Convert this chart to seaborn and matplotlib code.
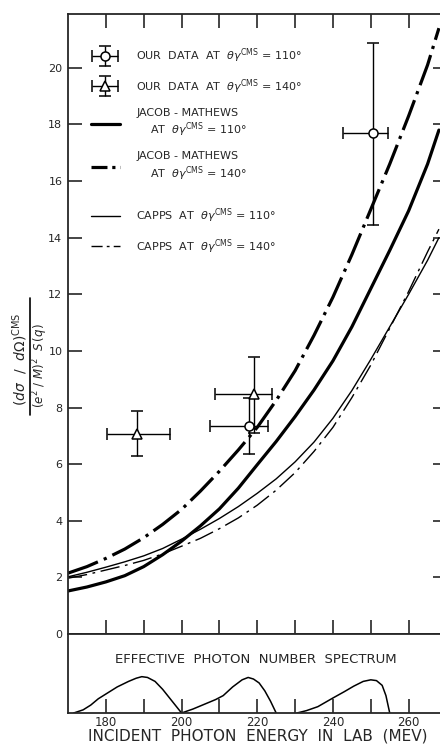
import matplotlib
matplotlib.use("Agg")
import matplotlib.pyplot as plt
import seaborn as sns
import pandas as pd
from matplotlib.lines import Line2D
from matplotlib.container import ErrorbarContainer
from matplotlib.legend_handler import HandlerErrorbar

# ---------------- data ----------------
energy = [170, 175, 180, 185, 190, 195, 200, 205, 210, 215, 220,
          225, 230, 235, 240, 245, 250, 255, 260, 265, 268]
jm_110 = [1.52, 1.66, 1.84, 2.06, 2.38, 2.8, 3.28, 3.82, 4.42, 5.15, 5.98,
          6.8, 7.68, 8.62, 9.65, 10.85, 12.2, 13.55, 14.95, 16.6, 17.8]
jm_140 = [2.15, 2.38, 2.67, 3.0, 3.4, 3.87, 4.4, 5.05, 5.75, 6.5, 7.3,
          8.25, 9.3, 10.55, 11.9, 13.4, 15.0, 16.6, 18.3, 20.1, 21.4]
capps_110 = [2.02, 2.18, 2.36, 2.55, 2.76, 3.02, 3.35, 3.7, 4.08, 4.5, 4.97,
             5.48, 6.08, 6.78, 7.62, 8.6, 9.7, 10.85, 12.0, 13.2, 14.0]
capps_140 = [1.97, 2.1, 2.26, 2.42, 2.6, 2.83, 3.1, 3.38, 3.72, 4.1, 4.55,
             5.08, 5.7, 6.45, 7.3, 8.35, 9.5, 10.8, 12.1, 13.5, 14.3]

circ_x = [217.9, 250.6]
circ_y = [7.35, 17.7]
circ_xerr_lo = [10.3, 7.9]
circ_xerr_hi = [5.0, 4.0]
circ_yerr_lo = [1.0, 3.25]
circ_yerr_hi = [0.98, 3.17]

tri_x = [188.1, 219.1]
tri_y = [7.06, 8.48]
tri_xerr_lo = [7.9, 10.3]
tri_xerr_hi = [8.8, 4.9]
tri_yerr_lo = [0.76, 1.37]
tri_yerr_hi = [0.83, 1.32]

spec1_x = [171.5, 174, 176, 178, 180, 183, 186, 188, 189.5, 191, 193, 195, 197, 199, 200]
spec1_y = [0, 0.04, 0.10, 0.18, 0.24, 0.33, 0.40, 0.44, 0.46, 0.45, 0.40, 0.30, 0.18, 0.06, 0]
spec2_x = [200, 203, 206, 209, 211, 213.5, 216, 217.6, 219, 220.5, 222, 223.5, 225]
spec2_y = [0, 0.05, 0.11, 0.17, 0.22, 0.33, 0.42, 0.45, 0.43, 0.38, 0.28, 0.15, 0]
spec3_x = [230.5, 233, 236, 240, 243, 245.5, 248, 250, 251.5, 253, 254, 255]
spec3_y = [0, 0.03, 0.08, 0.19, 0.27, 0.34, 0.40, 0.42, 0.41, 0.35, 0.22, 0]

xticks = [180, 190, 200, 210, 220, 230, 240, 250, 260]
xticklabels = ["180", "", "200", "", "220", "", "240", "", "260"]
yticks = [0, 2, 4, 6, 8, 10, 12, 14, 16, 18, 20]

# ---------------- style ----------------
sns.set_style("ticks")
plt.rcParams["font.family"] = ["DejaVu Sans"]
plt.rcParams["mathtext.fontset"] = "dejavusans"
plt.rcParams["axes.linewidth"] = 1.3

fig = plt.figure(figsize=(4.4, 7.44), dpi=100)
W, H = 440.0, 744.0
x0, x1 = 68.0, 68.0 + 378.5
ax = fig.add_axes([x0 / W, (H - 634) / H, (x1 - x0) / W, (634 - 14) / H])
axb = fig.add_axes([x0 / W, (H - 713) / H, (x1 - x0) / W, (713 - 634) / H])

curves = pd.DataFrame({"energy": energy, "jm110": jm_110, "jm140": jm_140,
                       "c110": capps_110, "c140": capps_140})

jm140_ls = (0, (10, 2.0, 1.0, 2.0))
c140_ls = (0, (14, 4, 2, 4))
sns.lineplot(data=curves, x="energy", y="jm110", ax=ax, color="black", lw=2.3,
             linestyle="-")
sns.lineplot(data=curves, x="energy", y="jm140", ax=ax, color="black", lw=2.3,
             linestyle=jm140_ls)
sns.lineplot(data=curves, x="energy", y="c110", ax=ax, color="black", lw=1.0,
             linestyle="-")
sns.lineplot(data=curves, x="energy", y="c140", ax=ax, color="black", lw=1.0,
             linestyle=c140_ls)

eb_kw = dict(ecolor="black", elinewidth=1.0, capsize=4.5, capthick=1.0,
             mfc="white", mec="black", mew=1.1, color="black", lw=0)
e1 = ax.errorbar(circ_x, circ_y, xerr=[circ_xerr_lo, circ_xerr_hi],
                 yerr=[circ_yerr_lo, circ_yerr_hi], fmt="o", ms=6.5, **eb_kw)
e2 = ax.errorbar(tri_x, tri_y, xerr=[tri_xerr_lo, tri_xerr_hi],
                 yerr=[tri_yerr_lo, tri_yerr_hi], fmt="^", ms=7, **eb_kw)

ax.set_xlim(170, 270)
ax.set_ylim(0, 21.9)
ax.set_xticks(xticks)
ax.set_xticklabels([])
ax.set_yticks(yticks)
ax.set_yticklabels([str(v) for v in yticks], fontsize=8)
ax.tick_params(axis="both", which="major", direction="in", length=10, width=1.2,
               top=True, bottom=True, left=True, right=True, pad=4)
ax.set_xlabel("")
ax.set_ylabel("")

# y-axis label drawn as a stacked fraction (rotated)
fig.text(20 / W, 1 - 359 / H, r"$(d\sigma\ \ /\ \ d\Omega)^{\mathrm{CMS}}$",
         rotation=90, ha="center", va="center", fontsize=10)
fig.text(40 / W, 1 - 366 / H, r"$(e^2\ /\ M)^2\ \ S\,(q)$",
         rotation=90, ha="center", va="center", fontsize=8.5)
fig.add_artist(Line2D([30 / W, 30 / W], [1 - 298 / H, 1 - 415 / H],
                      transform=fig.transFigure, color="black", lw=1.2))

# legend
th = r"$\theta\gamma^{\mathrm{CMS}}$"
leg_kw = dict(loc="upper left", frameon=False, fontsize=8, handlelength=2.6,
              handletextpad=1.5, labelspacing=1.1, borderpad=0, borderaxespad=0,
              handler_map={ErrorbarContainer: HandlerErrorbar(xerr_size=1.2,
                                                               yerr_size=0.9)})
handles1 = [e1, e2,
            Line2D([], [], color="black", lw=2.3),
            Line2D([], [], color="black", lw=2.3, linestyle=(0, (5, 1.5, 1.0, 1.5)))]
labels1 = [f"OUR  DATA  AT  {th} = 110°",
           f"OUR  DATA  AT  {th} = 140°",
           f"JACOB - MATHEWS\n    AT  {th} = 110°",
           f"JACOB - MATHEWS\n    AT  {th} = 140°"]
leg1 = ax.legend(handles=handles1, labels=labels1, bbox_to_anchor=(0.06, 0.948),
                 **leg_kw)
ax.add_artist(leg1)
handles2 = [Line2D([], [], color="black", lw=1.0),
            Line2D([], [], color="black", lw=1.0, linestyle=(0, (8, 3, 2, 3)))]
labels2 = [f"CAPPS  AT  {th} = 110°",
           f"CAPPS  AT  {th} = 140°"]
ax.legend(handles=handles2, labels=labels2, bbox_to_anchor=(0.06, 0.69), **leg_kw)

# ---------------- bottom spectrum panel ----------------
for sx, sy in [(spec1_x, spec1_y), (spec2_x, spec2_y), (spec3_x, spec3_y)]:
    sns.lineplot(x=sx, y=sy, ax=axb, color="black", lw=1.1, sort=False)
axb.set_xlim(170, 270)
axb.set_ylim(0, 1)
axb.set_yticks([])
axb.set_xticks(xticks)
axb.set_xticklabels(xticklabels, fontsize=8.5)
axb.tick_params(axis="x", direction="in", length=10, width=1.2, pad=2.5,
                top=False, bottom=True)
axb.text(219.7, 0.68, "EFFECTIVE  PHOTON  NUMBER  SPECTRUM", ha="center",
         va="center", fontsize=9.5)
axb.set_xlabel("INCIDENT  PHOTON  ENERGY  IN  LAB  (MEV)", fontsize=11,
               labelpad=-1)
axb.set_ylabel("")

fig.savefig("out.png", dpi=100)
